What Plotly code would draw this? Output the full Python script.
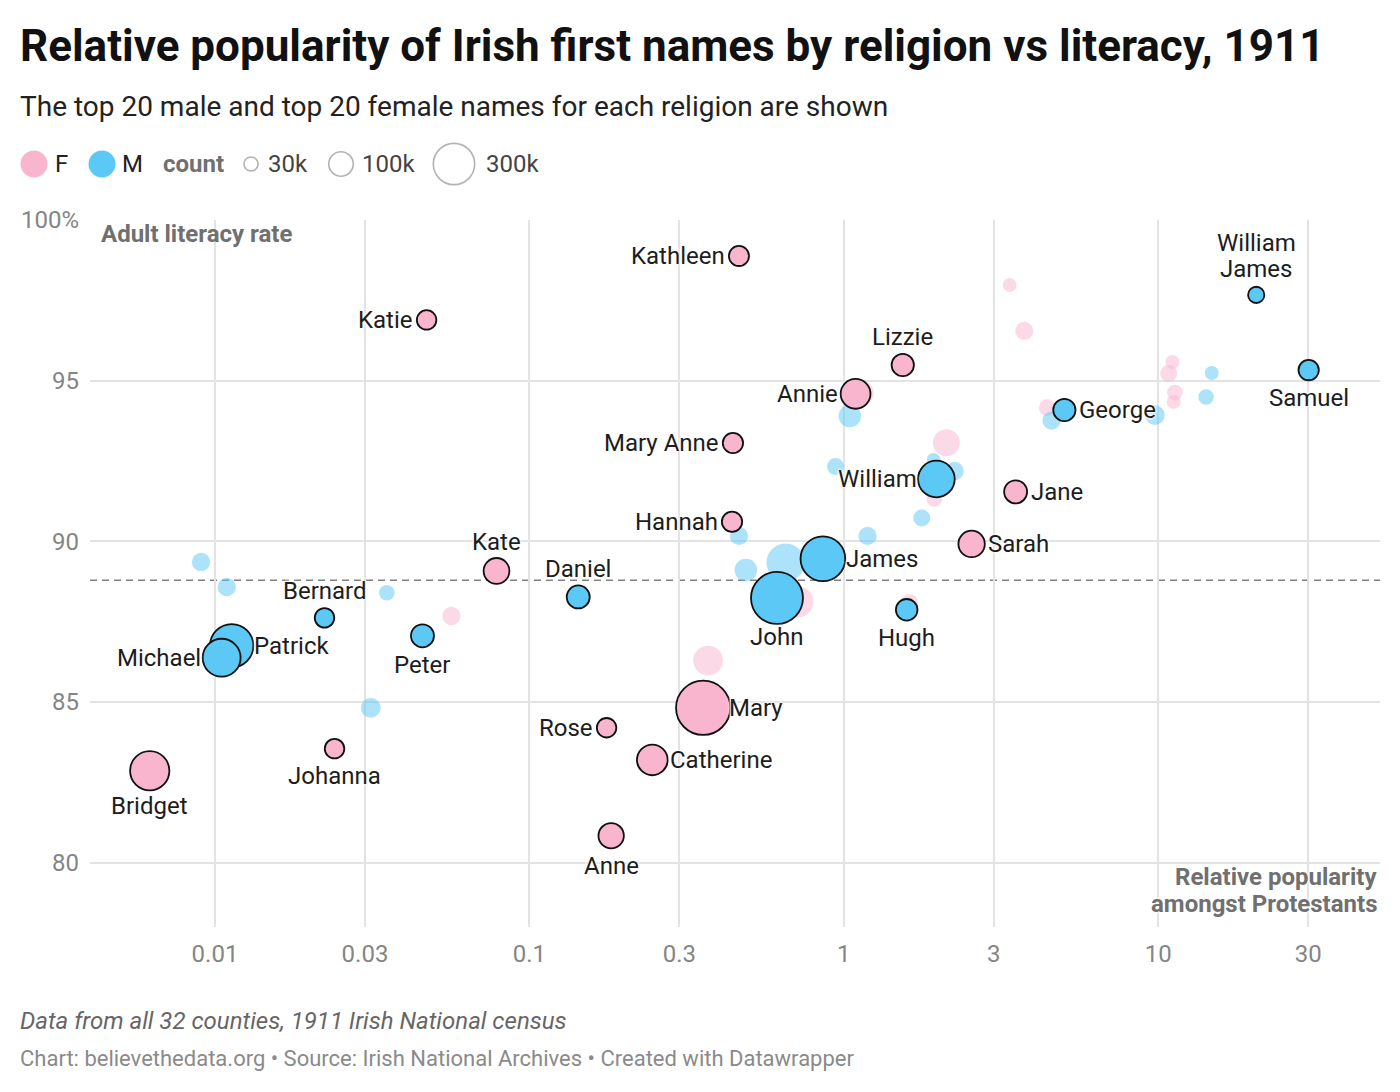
import numpy as np
import plotly.graph_objects as go

# ---------------- data ----------------
names = ["Mary", "John", "James", "Patrick", "Bridget", "Michael", "William",
         "Catherine", "Annie", "Sarah", "Kate", "Anne", "Daniel", "Peter", "Jane",
         "Lizzie", "George", "Hugh", "Samuel", "Mary Anne", "Hannah", "Kathleen",
         "Katie", "Bernard", "Rose", "Johanna", "William James"]
gender = ["F", "M", "M", "M", "F", "M", "M",
          "F", "F", "F", "F", "F", "M", "M", "F",
          "F", "M", "M", "M", "F", "F", "F",
          "F", "M", "F", "F", "M"]
ratio = [0.357, 0.613, 0.858, 0.0113, 0.0062, 0.0105, 1.97,
         0.246, 1.09, 2.55, 0.0786, 0.182, 0.143, 0.0457, 3.52,
         1.54, 5.03, 1.585, 30.1, 0.444, 0.441, 0.464,
         0.0471, 0.0223, 0.176, 0.024, 20.5]
literacy = [84.82, 88.24, 89.46, 86.75, 82.86, 86.38, 91.94,
            83.20, 94.59, 89.92, 89.08, 80.84, 88.27, 87.06, 91.54,
            95.49, 94.09, 87.87, 95.33, 93.06, 90.61, 98.88,
            96.89, 87.62, 84.20, 83.55, 97.67]
count = [278000, 255000, 189000, 178000, 146000, 136000, 127000,
         89000, 84000, 66000, 63000, 61000, 50000, 50000, 50000,
         47000, 47000, 44000, 39000, 39000, 39000, 38000,
         36000, 36000, 36000, 36000, 25000]

# unlabelled names (shown faded)
f_other_ratio = [0.0565, 0.714, 0.370, 1.14, 2.12, 1.94, 1.62, 3.37, 3.75, 4.44,
                 11.1, 10.8, 11.3, 11.2]
f_other_literacy = [87.68, 88.12, 86.29, 94.62, 93.07, 91.32, 88.09, 97.98, 96.55,
                    94.16, 95.58, 95.22, 94.63, 94.34]
f_other_count = [29000, 84000, 77000, 50000, 63000, 21000, 25000, 17000, 29000,
                 25000, 17000, 25000, 21000, 17000]
m_other_ratio = [0.00903, 0.0109, 0.0352, 0.0313, 0.464, 0.488, 0.653, 1.045, 0.941,
                 1.19, 1.93, 2.25, 1.77, 4.58, 9.76, 14.8, 14.2]
m_other_literacy = [89.36, 88.58, 88.40, 84.82, 90.17, 89.11, 89.34, 93.90, 92.33,
                    90.17, 92.53, 92.19, 90.73, 93.76, 93.93, 95.24, 94.49]
m_other_count = [29000, 29000, 21000, 34000, 29000, 44000, 127000, 44000, 25000,
                 29000, 17000, 29000, 25000, 29000, 34000, 17000, 21000]

adult_literacy_rate = 88.79

x_ticks = [0.01, 0.03, 0.1, 0.3, 1, 3, 10, 30]
x_ticktext = ["0.01", "0.03", "0.1", "0.3", "1", "3", "10", "30"]
y_ticks = [80, 85, 90, 95, 100]
y_ticktext = ["80", "85", "90", "95", "100%"]

legend_sizes = [30000, 100000, 300000]
legend_size_text = ["30k", "100k", "300k"]

# label placement (style)
label_pos = {
    "Mary": "right", "John": "bottom", "James": "right", "Patrick": "right",
    "Bridget": "bottom", "Michael": "left", "William": "left", "Catherine": "right",
    "Annie": "left", "Sarah": "right", "Kate": "top", "Anne": "bottom",
    "Daniel": "top", "Peter": "bottom", "Jane": "right", "Lizzie": "top",
    "George": "right", "Hugh": "bottom", "Samuel": "bottom", "Mary Anne": "left",
    "Hannah": "left", "Kathleen": "left", "Katie": "left", "Bernard": "top",
    "Rose": "left", "Johanna": "bottom", "William James": "top",
}
label_lines = {"William James": ["William", "James"]}

# ---------------- style ----------------
FONT = "Roboto"
COL = {"F": "#f9b4ce", "M": "#5bc8f5"}
W, H = 1400, 1092
L, R, T, B = 90, 1380, 220, 927
D100K = 23.0                      # px diameter for 100k
SIZEREF = 100000 / D100K ** 2     # sizemode="area": diameter = sqrt(v / sizeref)
STROKE = 1.8
LINE_H = 26


def diam(v):
    return np.sqrt(v / SIZEREF)


def px(x):
    return (x - L) / (R - L)


def py(y):
    return (B - y) / (B - T)


fig = go.Figure()

# faded (unlabelled) points
for g, xs, ys, cs in [("F", f_other_ratio, f_other_literacy, f_other_count),
                      ("M", m_other_ratio, m_other_literacy, m_other_count)]:
    order = np.argsort(cs)[::-1]
    fig.add_trace(go.Scatter(
        x=np.array(xs)[order], y=np.array(ys)[order], mode="markers",
        marker=dict(size=np.array(cs)[order], sizemode="area",
                    sizeref=100000 / 24.0 ** 2,
                    color=COL[g], opacity=0.5, line=dict(width=0)),
        hoverinfo="skip", showlegend=False))

# highlighted points, largest first
order = np.argsort(count, kind="stable")[::-1]
fig.add_trace(go.Scatter(
    x=np.array(ratio)[order], y=np.array(literacy)[order], mode="markers",
    marker=dict(size=np.array(count)[order], sizemode="area", sizeref=SIZEREF,
                color=[COL[gender[i]] for i in order], opacity=1,
                line=dict(width=STROKE, color="#111111")),
    text=np.array(names)[order], hovertemplate="%{text}<extra></extra>",
    showlegend=False))

annotations = []
shadow = "0px 0px 2px #fff, 0px 0px 2px #fff, 0px 0px 3px #fff, 0px 0px 4px #fff"
lab_font = dict(family=FONT, size=24, color="#1d1d1d", shadow=shadow)
for n, xv, yv, c in zip(names, ratio, literacy, count):
    r = diam(c) / 2 + STROKE / 2
    pos = label_pos[n]
    lines = label_lines.get(n, [n])
    for k, line in enumerate(lines):
        a = dict(x=np.log10(xv), y=yv, xref="x", yref="y", showarrow=False,
                 text=line, font=lab_font, borderpad=0)
        if pos == "left":
            a.update(xanchor="right", yanchor="middle", xshift=-(r + 5))
        elif pos == "right":
            a.update(xanchor="left", yanchor="middle", xshift=r + 5)
        elif pos == "top":
            a.update(xanchor="center", yanchor="bottom",
                     yshift=r + 4 + (len(lines) - 1 - k) * LINE_H)
        else:
            a.update(xanchor="center", yanchor="top", yshift=-(r + 5) - k * LINE_H)
        annotations.append(a)

gray_b = dict(family=FONT, size=24, color="#707070")
annotations.append(dict(xref="paper", yref="paper", x=px(99), y=py(234),
                        xanchor="left", yanchor="middle", showarrow=False,
                        text="<b>Adult literacy rate</b>", font=gray_b))
for k, line in enumerate(["Relative popularity", "amongst Protestants"]):
    annotations.append(dict(xref="paper", yref="paper", x=px(1379), y=py(877 + 27 * k),
                            xanchor="right", yanchor="middle",
                            showarrow=False, text="<b>%s</b>" % line,
                            font=dict(gray_b, shadow=shadow)))

# subtitle + footer
annotations.append(dict(xref="paper", yref="paper", x=px(18), y=py(107),
                        xanchor="left", yanchor="middle", showarrow=False,
                        text="The top 20 male and top 20 female names for each religion are shown",
                        font=dict(family=FONT, size=28, color="#222")))
annotations.append(dict(xref="paper", yref="paper", x=px(18), y=py(1021),
                        xanchor="left", yanchor="middle", showarrow=False,
                        text="Data from all 32 counties, 1911 Irish National census",
                        font=dict(family=FONT, size=24, color="#666", style="italic")))
annotations.append(dict(xref="paper", yref="paper", x=px(18), y=py(1058),
                        xanchor="left", yanchor="middle", showarrow=False,
                        text="Chart: believethedata.org • Source: Irish National Archives • Created with Datawrapper",
                        font=dict(family=FONT, size=22, color="#8a8a8a")))

# legend
shapes = []
LY = 164


def circle(cx, cy, d, **kw):
    return dict(type="circle", xref="paper", yref="paper",
                x0=px(cx - d / 2), x1=px(cx + d / 2),
                y0=py(cy + d / 2), y1=py(cy - d / 2), **kw)


shapes.append(circle(34, LY, 27, fillcolor=COL["F"], line=dict(width=0)))
shapes.append(circle(102, LY, 27, fillcolor=COL["M"], line=dict(width=0)))
leg_font = dict(family=FONT, size=24, color="#222")
for txt, x0 in [("F", 53), ("M", 120)]:
    annotations.append(dict(xref="paper", yref="paper", x=px(x0), y=py(LY),
                            xanchor="left", yanchor="middle", showarrow=False,
                            text=txt, font=leg_font))
annotations.append(dict(xref="paper", yref="paper", x=px(161), y=py(LY),
                        xanchor="left", yanchor="middle", showarrow=False,
                        text="<b>count</b>", font=dict(family=FONT, size=24, color="#707070")))
for v, t, c, tx in zip(legend_sizes, legend_size_text, [251, 341, 454], [266, 360, 484]):
    d = diam(v) + 1.5
    shapes.append(circle(c, LY, d, fillcolor="rgba(0,0,0,0)",
                         line=dict(width=1.6, color="#b3b3b3")))
    annotations.append(dict(xref="paper", yref="paper", x=px(tx), y=py(LY),
                            xanchor="left", yanchor="middle", showarrow=False,
                            text=t, font=dict(family=FONT, size=24, color="#444")))

# reference lines
shapes.append(dict(type="line", xref="paper", yref="y", x0=0, x1=1,
                   y0=adult_literacy_rate, y1=adult_literacy_rate,
                   line=dict(color="#808080", width=1.6, dash="7px,5px"), layer="between"))
shapes.append(dict(type="line", xref="x", yref="paper", x0=0, x1=0, y0=0, y1=1,
                   line=dict(color="#8c8c8c", width=2), layer="between"))

fig.update_layout(
    width=W, height=H,
    margin=dict(l=L, r=W - R, t=T, b=H - B, pad=0),
    paper_bgcolor="white", plot_bgcolor="white",
    font=dict(family=FONT),
    title=dict(text="<b>Relative popularity of Irish first names by religion vs literacy, 1911</b>",
               x=20 / W, xref="container", xanchor="left",
               y=1 - 46 / H, yref="container", yanchor="middle",
               font=dict(family=FONT, size=44, color="#111")),
    xaxis=dict(type="log", range=[np.log10(0.01) - (215 - L) / 314.4,
                                  np.log10(0.01) + (R - 215) / 314.4],
               tickvals=x_ticks, ticktext=x_ticktext, showgrid=True,
               gridcolor="#e3e3e3", gridwidth=2, zeroline=False, showline=False,
               ticks="", ticklabelstandoff=10,
               tickfont=dict(family=FONT, size=24, color="#858585")),
    yaxis=dict(range=[78, 100], tickvals=y_ticks, ticktext=y_ticktext,
               showgrid=True, gridcolor="#e3e3e3", gridwidth=2, zeroline=False,
               showline=False, ticks="", ticklabelstandoff=10,
               tickfont=dict(family=FONT, size=24, color="#858585")),
    shapes=shapes, annotations=annotations, showlegend=False, hovermode="closest",
)

fig.write_html("out.html")
